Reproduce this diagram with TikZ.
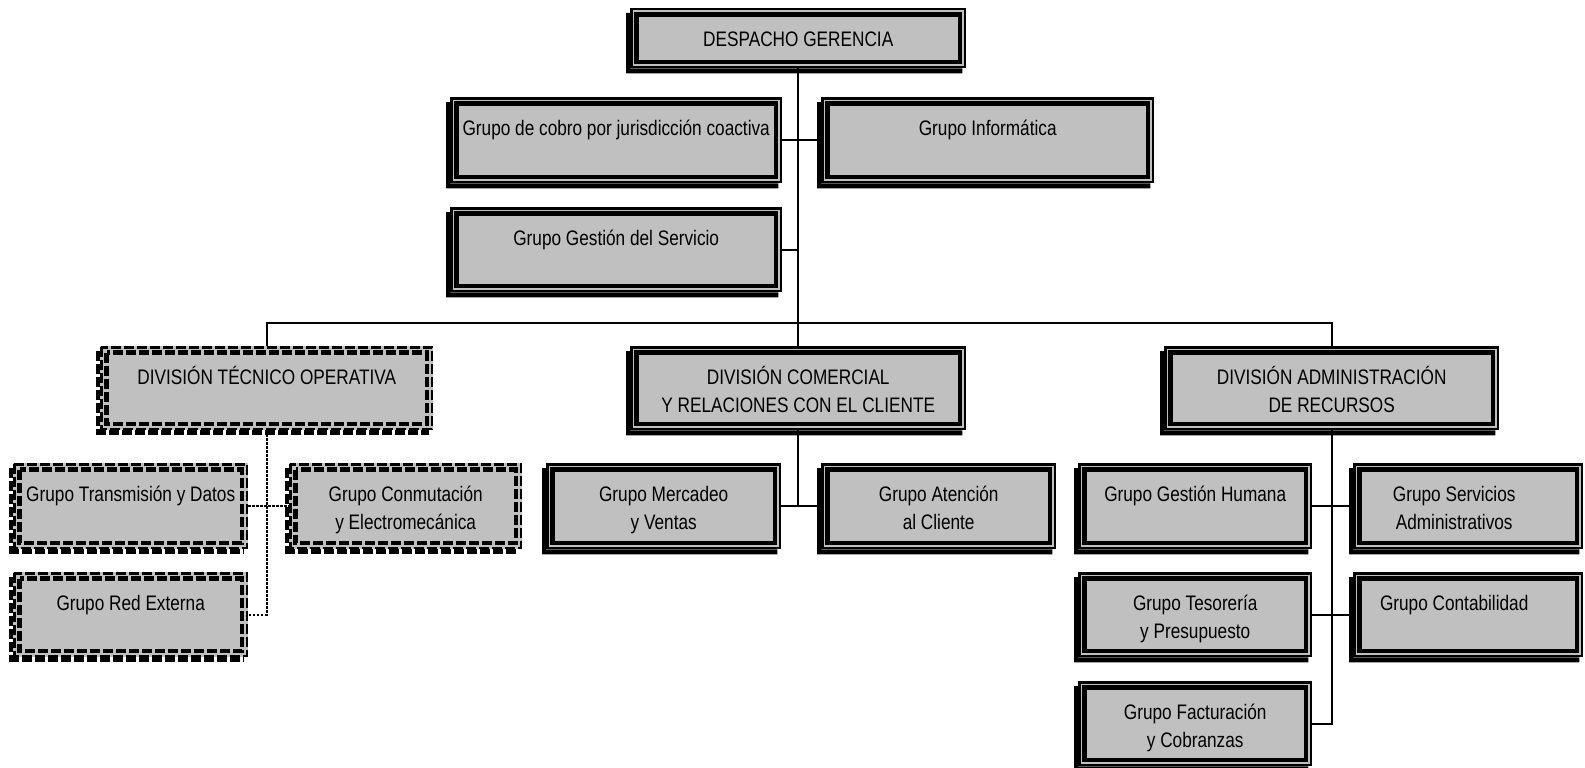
\documentclass[tikz,border=0pt]{standalone}
\usepackage{fontspec}
\newfontfamily\narrowf[FakeStretch=0.82]{Liberation Sans}
\definecolor{boxgray}{RGB}{192,192,192}
\tikzset{
  orgbox/.style={fill=boxgray, draw=none, inner sep=0pt, anchor=north west, align=center,
    font=\narrowf\fontsize{21}{28}\selectfont, minimum height=0pt},
  link/.style={line width=2pt},
  dlink/.style={line width=2pt, dash pattern=on 2.5pt off 1.5pt},
  dashb/.style={dash pattern=on 10pt off 3pt},
}
% #1 name, #2 x0, #3 y0, #4 x1, #5 y1, #6 number of lines, #7 text
\newcommand\obox[7]{%
  \pgfmathsetmacro\bw{#4-#2}%
  \pgfmathsetmacro\bh{38.5+28*(#6-1)}%
  \pgfmathsetmacro\bd{#5-#3-\bh}%
  \node[orgbox, minimum width=\bw pt, text height=\bh pt, text depth=\bd pt] (#1) at (#2,#3) {#7};
}
\newcommand\decosolid[1]{%
  \draw[line width=2.5pt] ([shift={(1.25,1.25)}]#1.north west) rectangle ([shift={(-1.25,-1.25)}]#1.south east);
  \draw[line width=4.5pt] ([shift={(6.5,6.5)}]#1.north west) rectangle ([shift={(-6.5,-6.5)}]#1.south east);
  \fill ([shift={(-4,5)}]#1.north west) -- ([shift={(0,5)}]#1.north west) -- (#1.south west)
     -- ([shift={(-4,0)}]#1.south east) -- ([shift={(-4,5)}]#1.south east) -- ([shift={(-4,5)}]#1.south west) -- cycle;
}
\newcommand\decodash[1]{%
  \draw[line width=2.5pt,dashb] ([shift={(1.25,1.25)}]#1.north west) rectangle ([shift={(-1.25,-1.25)}]#1.south east);
  \draw[line width=4.5pt,dashb] ([shift={(6.5,6.5)}]#1.north west) rectangle ([shift={(-6.5,-6.5)}]#1.south east);
  \draw[line width=4pt,dashb] ([shift={(-2,5)}]#1.north west) -- ([shift={(-2,5)}]#1.south west);
  \draw[line width=5pt,dashb] ([shift={(-4,2.5)}]#1.south west) -- ([shift={(-4,2.5)}]#1.south east);
}
\begin{document}
\begin{tikzpicture}[x=1pt,y=-1pt]
\useasboundingbox (0,0) rectangle (1585,768);
% boxes
\obox{desp}{630}{8}{966}{68}{1}{DESPACHO GERENCIA}
\obox{cobro}{450}{97}{782}{183}{1}{Grupo de cobro por jurisdicción coactiva}
\obox{info}{821}{97}{1154}{183}{1}{Grupo Informática}
\obox{gs}{450}{207}{782}{292}{1}{Grupo Gestión del Servicio}
\obox{dto}{100}{346}{433}{430}{1}{DIVISIÓN TÉCNICO OPERATIVA}
\obox{dc}{630}{346}{966}{430}{2}{DIVISIÓN COMERCIAL\\Y RELACIONES CON EL CLIENTE}
\obox{da}{1164}{346}{1499}{430}{2}{DIVISIÓN ADMINISTRACIÓN\\DE RECURSOS}
\obox{trans}{13}{463}{248}{549}{1}{Grupo Transmisión y Datos}
\obox{conm}{289}{463}{522}{549}{2}{Grupo Conmutación\\y Electromecánica}
\obox{red}{13}{572}{248}{657}{1}{Grupo Red Externa}
\obox{merc}{546}{463}{781}{549}{2}{Grupo Mercadeo\\y Ventas}
\obox{aten}{821}{463}{1056}{549}{2}{Grupo Atención\\al Cliente}
\obox{gh}{1078}{463}{1312}{549}{1}{Grupo Gestión Humana}
\obox{sa}{1353}{463}{1583}{549}{2}{\hspace*{-28pt}Grupo Servicios\\\hspace*{-28pt}Administrativos}
\obox{tes}{1078}{572}{1312}{657}{2}{Grupo Tesorería\\y Presupuesto}
\obox{cont}{1353}{572}{1583}{657}{1}{\hspace*{-28pt}Grupo Contabilidad}
\obox{fact}{1078}{681}{1312}{766}{2}{Grupo Facturación\\y Cobranzas}
% decorations
\decosolid{desp}\decosolid{cobro}\decosolid{info}\decosolid{gs}
\decosolid{dc}\decosolid{da}
\decosolid{merc}\decosolid{aten}\decosolid{gh}\decosolid{sa}\decosolid{tes}\decosolid{cont}\decosolid{fact}
\decodash{dto}\decodash{trans}\decodash{conm}\decodash{red}
% connectors
\coordinate (bus) at (0,323);
\draw[link] (desp.south) -- (desp.south |- dc.north);
\draw[link] (dto.north) -- (dto.north |- bus) -- (da.north |- bus) -- (da.north);
\draw[link] (cobro.east) -- (info.west);
\draw[link] (gs.east) -- (gs.east -| desp.south);
\draw[dlink] (dto.south) -- (dto.south |- red.east) -- (red.east);
\draw[dlink] (trans.east) -- (conm.west);
\draw[link] (dc.south) -- (dc.south |- merc.east);
\draw[link] (merc.east) -- (aten.west);
\draw[link] (da.south) -- (da.south |- fact.east) -- (fact.east);
\draw[link] (gh.east) -- (sa.west);
\draw[link] (tes.east) -- (cont.west);
\end{tikzpicture}
\end{document}
